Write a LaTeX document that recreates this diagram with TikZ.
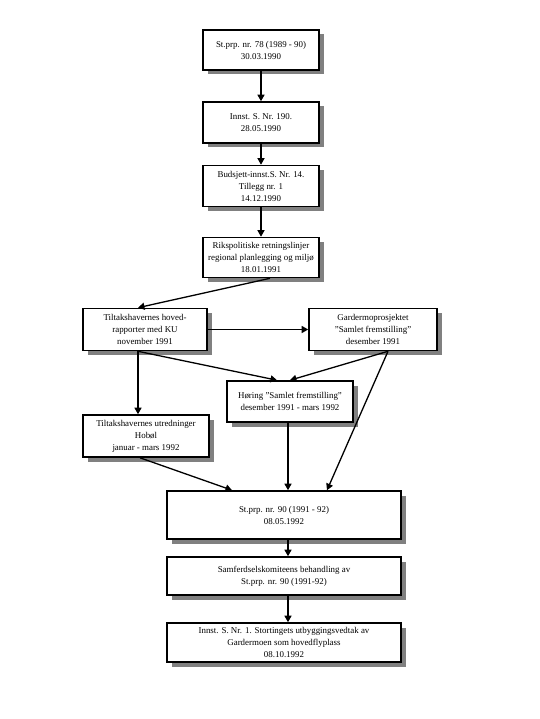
\documentclass[tikz,border=0pt]{standalone}
\usepackage{fontspec}
\setmainfont{Liberation Serif}
\usetikzlibrary{shadows,arrows.meta}
\begin{document}
\begin{tikzpicture}[x=1pt,y=-1pt,
  box/.style={draw=black,line width=1.6pt,fill=white,align=center,inner sep=1pt,
    font=\fontsize{8.9}{12}\selectfont,
    drop shadow={shadow xshift=4.5pt,shadow yshift=-4.5pt,fill=black!50,opacity=1}},
  arr/.style={line width=1.3pt,-{Triangle[width=7pt,length=6.5pt]}}]
\useasboundingbox (0,0) rectangle (539,719);
\node[box,minimum width=116pt,minimum height=40pt] (b1) at (261,50) {St.prp. nr. 78 (1989 - 90)\\30.03.1990};
\node[box,minimum width=116pt,minimum height=41pt] (b2) at (261,122.5) {Innst. S. Nr. 190.\\28.05.1990};
\node[box,minimum width=116pt,minimum height=41pt] (b3) at (261,186) {Budsjett-innst.S. Nr. 14.\\Tillegg nr. 1\\14.12.1990};
\node[box,minimum width=116pt,minimum height=40pt] (b4) at (261,257.5) {Rikspolitiske retningslinjer\\regional planlegging og miljø\\18.01.1991};
\node[box,minimum width=124pt,minimum height=42pt] (b5) at (145,329.5) {Tiltakshavernes hoved-\\rapporter med KU\\november 1991};
\node[box,minimum width=128pt,minimum height=42pt] (b6) at (373,329.5) {Gardermoprosjektet\\”Samlet fremstilling”\\desember 1991};
\node[box,minimum width=126pt,minimum height=41pt] (b7) at (290,401.5) {Høring ”Samlet fremstilling”\\desember 1991 - mars 1992};
\node[box,minimum width=126pt,minimum height=42pt] (b8) at (146,436) {Tiltakshavernes utredninger\\Hobøl\\januar - mars 1992};
\node[box,minimum width=234pt,minimum height=48pt] (b9) at (284,515) {St.prp. nr. 90 (1991 - 92)\\08.05.1992};
\node[box,minimum width=234pt,minimum height=38pt] (b10) at (284,576) {Samferdselskomiteens behandling av\\St.prp. nr. 90 (1991-92)};
\node[box,minimum width=234pt,minimum height=39pt] (b11) at (284,642.5) {Innst. S. Nr. 1. Stortingets utbyggingsvedtak av\\Gardermoen som hovedflyplass\\08.10.1992};
\draw[arr] (b1) -- (b2);
\draw[arr] (b2) -- (b3);
\draw[arr] (b3) -- (b4);
\draw[arr] ([xshift=9pt]b4.south) -- ([xshift=-7pt]b5.north);
\draw[arr] (b5.east) -- (b6.west);
\draw[arr] ([xshift=-7pt]b5.south) -- ([xshift=-8pt]b8.north);
\draw[arr] ([xshift=-7pt]b5.south) -- ([xshift=-13pt]b7.north);
\draw[arr] ([xshift=15pt]b6.south) -- (b7.north);
\draw[arr] ([xshift=15pt]b6.south) -- ([xshift=43pt]b9.north);
\draw[arr] ([xshift=-2pt]b7.south) -- ([xshift=4pt]b9.north);
\draw[arr] ([xshift=-6pt]b8.south) -- ([xshift=-52pt]b9.north);
\draw[arr] ([xshift=4pt]b9.south) -- ([xshift=4pt]b10.north);
\draw[arr] ([xshift=4pt]b10.south) -- ([xshift=4pt]b11.north);
\end{tikzpicture}
\end{document}
